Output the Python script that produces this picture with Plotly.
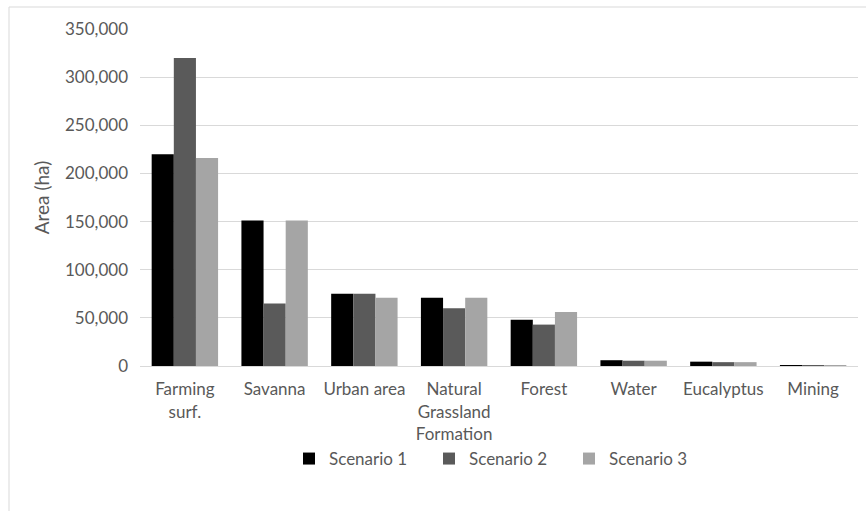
import plotly.graph_objects as go

# Land-use classes and projected area (ha) under each scenario
categories = ["Farming<br>surf.", "Savanna", "Urban area", "Natural<br>Grassland<br>Formation",
              "Forest", "Water", "Eucalyptus", "Mining"]
scenario_1 = [220000, 151000, 75000, 71000, 48000, 6000, 4500, 1000]
scenario_2 = [320000, 65000, 75000, 60000, 43000, 5500, 4000, 800]
scenario_3 = [216000, 151000, 71000, 71000, 56000, 5500, 4000, 800]
series_names = ["Scenario 1", "Scenario 2", "Scenario 3"]
series_colors = ["#000000", "#5a5a5a", "#a5a5a5"]
y_ticks = [0, 50000, 100000, 150000, 200000, 250000, 300000, 350000]

W, H = 866, 511
L, R, T, B = 140, 8, 29, 145
plot_w = W - L - R
plot_h = H - T - B

fig = go.Figure()
for name, vals, col in zip(series_names, [scenario_1, scenario_2, scenario_3], series_colors):
    fig.add_trace(go.Bar(x=categories, y=vals, name=name, marker_color=col,
                         marker_line_width=0))

font_family = "Lato, 'Open Sans', sans-serif"
text_col = "#595959"
fig.update_layout(
    width=W, height=H,
    margin=dict(l=L, r=R, t=T, b=B),
    paper_bgcolor="white", plot_bgcolor="white",
    barmode="group", bargap=0.26, bargroupgap=0,
    font=dict(family=font_family, size=17, color=text_col),
    xaxis=dict(showgrid=False, showline=True, linecolor="#d9d9d9", linewidth=1,
               ticks="", tickfont=dict(size=17, color=text_col), ticklabelstandoff=8),
    yaxis=dict(range=[0, 350000], tickvals=y_ticks, tickformat=",",
               showgrid=True, gridcolor="#d9d9d9", gridwidth=1,
               zeroline=False, ticks="", ticklen=0, ticklabelstandoff=11,
               tickfont=dict(size=17, color=text_col),
               title=dict(text="Area (ha)", font=dict(size=19, color=text_col), standoff=10)),
    legend=dict(orientation="h", x=0.5, xanchor="center",
                y=(366 - 459) / plot_h, yanchor="middle",
                bgcolor="rgba(0,0,0,0)",
                font=dict(size=17, color=text_col),
                itemwidth=30, entrywidth=95, traceorder="normal"),
    showlegend=True,
)

# Chart frame: top and left edges
frame = dict(color="#d9d9d9", width=1)
fig.add_shape(type="line", xref="paper", yref="paper",
              x0=(9 - L) / plot_w, x1=(W - L) / plot_w,
              y0=(366 - 7) / plot_h, y1=(366 - 7) / plot_h, line=frame, layer="below")
fig.add_shape(type="line", xref="paper", yref="paper",
              x0=(9 - L) / plot_w, x1=(9 - L) / plot_w,
              y0=(366 - H) / plot_h, y1=(366 - 7) / plot_h, line=frame, layer="below")

fig.write_html("out.html")
